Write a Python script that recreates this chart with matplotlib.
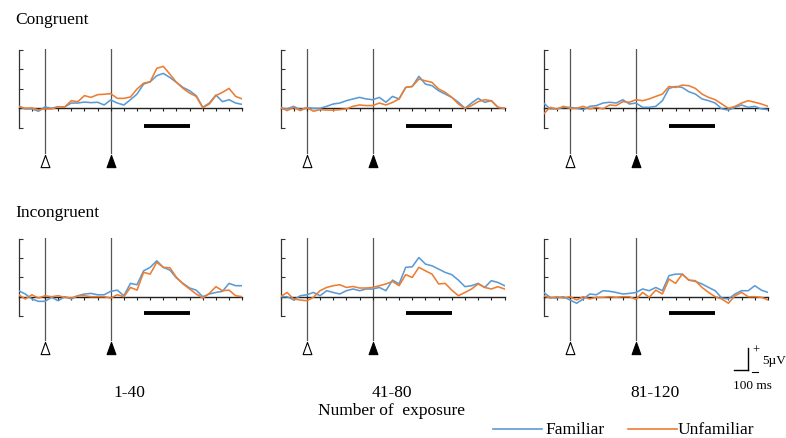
import matplotlib
matplotlib.use('Agg')
import matplotlib.pyplot as plt
from matplotlib.path import Path
from matplotlib.lines import Line2D

# ---------------- data ----------------
times = list(range(-200, 1501, 50))  # ms

cong_1_fam = [0.09, -0.03, -0.03, -0.15, 0.07, 0, 0.08, 0.07, 0.27, 0.27,
              0.32, 0.29, 0.31, 0.17, 0.43, 0.27, 0.17, 0.44, 0.73, 1.24,
              1.36, 1.67, 1.79, 1.58, 1.33, 1.07, 0.9, 0.65, 0.05, 0.27,
              0.68, 0.34, 0.44, 0.27, 0.2]
cong_1_unf = [0.1, 0, 0.02, -0.08, -0.03, -0.03, 0.08, 0.07, 0.39, 0.34,
              0.65, 0.56, 0.7, 0.72, 0.75, 0.51, 0.51, 0.58, 0.99, 1.29,
              1.36, 2.05, 2.15, 1.75, 1.33, 1.02, 0.78, 0.61, 0.03, 0.22,
              0.65, 0.82, 1.02, 0.61, 0.48]
cong_2_fam = [0, -0.03, 0.1, -0.07, 0.03, 0, 0, 0.1, 0.22, 0.27,
              0.39, 0.48, 0.56, 0.48, 0.44, 0.56, 0.31, 0.61, 0.48, 1.07,
              1.12, 1.64, 1.24, 1.16, 0.9, 0.73, 0.56, 0.31, 0, 0.27,
              0.51, 0.31, 0.39, 0.05, 0]
cong_2_unf = [0.05, -0.12, 0.05, -0.12, 0.03, -0.15, -0.07, -0.09, -0.1, -0.07,
              -0.03, 0.1, 0.17, 0.14, 0.14, 0.27, 0.17, 0.3, 0.48, 1.07,
              1.12, 1.5, 1.41, 1.33, 0.99, 0.82, 0.56, 0.22, 0, 0.14,
              0.34, 0.44, 0.39, 0.05, 0]
cong_3_fam = [0.27, -0.03, -0.03, 0.05, 0.05, 0, -0.07, 0.1, 0.14, 0.27,
              0.31, 0.27, 0.44, 0.22, 0.27, 0.05, 0.05, 0.1, 0.39, 1.02,
              1.12, 1.07, 0.85, 0.73, 0.48, 0.39, 0.27, -0.03, -0.09, 0.05,
              0.17, 0.05, 0.1, -0.03, -0.07]
cong_3_unf = [-0.29, 0.05, -0.05, 0.1, 0, 0, 0.1, -0.03, 0.05, -0.03,
              0.17, 0.14, 0.34, 0.31, 0.44, 0.39, 0.48, 0.61, 0.73, 1.12,
              1.07, 1.19, 1.16, 1.02, 0.73, 0.56, 0.44, 0.22, 0, 0.1,
              0.27, 0.39, 0.31, 0.22, 0.1]
incg_1_fam = [0.31, 0.14, -0.12, -0.24, -0.24, -0.03, -0.21, 0, -0.12, 0.05,
              0.14, 0.17, 0.1, 0.1, 0.28, 0.34, 0.05, 0.69, 0.62, 1.34,
              1.52, 1.86, 1.52, 1.38, 0.97, 0.69, 0.45, 0.34, 0, 0.14,
              0.22, 0.28, 0.69, 0.57, 0.57]
incg_1_unf = [0.1, -0.12, 0.1, -0.07, 0.05, 0, 0.05, -0.03, -0.07, 0.05,
              0.05, 0, 0, 0, -0.07, 0.1, 0, 0.48, 0.34, 1.26,
              1.17, 1.78, 1.52, 1.5, 1.0, 0.66, 0.4, 0.14, -0.07, 0.17,
              0.52, 0.31, 0.34, 0.05, 0]
incg_2_fam = [0, 0, -0.17, 0.05, 0.1, 0.22, 0.05, 0.31, 0.22, 0.14,
              0.31, 0.4, 0.31, 0.4, 0.4, 0.48, 0.31, 0.86, 0.66, 1.52,
              1.55, 2.03, 1.69, 1.6, 1.43, 1.26, 1.14, 0.86, 0.52, 0.57,
              0.69, 0.48, 0.83, 0.74, 0.57]
incg_2_unf = [0, 0.22, -0.12, -0.17, -0.21, -0.03, 0.31, 0.48, 0.57, 0.62,
              0.48, 0.53, 0.45, 0.45, 0.48, 0.57, 0.66, 0.79, 0.57, 1.14,
              1.0, 1.52, 1.34, 1.17, 0.66, 0.69, 0.34, 0.05, 0.22, 0.4,
              0.66, 0.48, 0.4, 0.52, 0.4]
incg_3_fam = [0.22, -0.03, -0.07, 0, -0.17, -0.34, -0.12, 0.14, 0.1, 0.31,
              0.28, 0.22, 0.14, 0.17, 0.22, 0.4, 0.31, 0.48, 0.31, 1.09,
              1.17, 1.17, 0.86, 0.79, 0.66, 0.48, 0.31, -0.07, -0.12, 0.14,
              0.31, 0.31, 0.57, 0.34, 0.22]
incg_3_unf = [0.05, -0.07, 0, -0.07, 0, -0.17, 0, -0.12, -0.03, -0.03,
              0, -0.03, 0, 0, -0.14, 0.22, -0.03, 0.34, 0.14, 0.91,
              0.69, 1.17, 0.86, 0.83, 0.48, 0.22, 0, -0.12, -0.34, 0.05,
              0.22, 0, 0, -0.03, -0.17]

onsets = [0, 500]            # prime (open) and target (filled) onsets, ms
window = [750, 1100]         # analysis window bar, ms
row_titles = ['Congruent', 'Incongruent']
col_labels = ['1-40', '41-80', '81-120']
series_names = ['Familiar', 'Unfamiliar']

# ---------------- style ----------------
W, H = 786, 439
BLUE = '#5B9BD5'
ORANGE = '#ED7D31'
plt.rcParams['font.family'] = ['Liberation Serif', 'DejaVu Serif']

fig = plt.figure(figsize=(W / 100, H / 100), dpi=100)
fig.patch.set_facecolor('white')


def fx(x):
    return x / W


def fy(y):
    return 1 - y / H


X0, X1 = -200, 1500
Y0, Y1 = -3.2, 3.05
col_left = [18.7, 280.5, 543.6]
col_width = [223.5, 224.0, 224.4]
row_zero = [109.3, 297.7]
row_ppu = [19.5, 19.3]
row_bar = [-0.92, -0.86]
row_tri = [-2.69, -2.66]
row_vbot = [-2.29, -2.25]

data = [[(cong_1_fam, cong_1_unf), (cong_2_fam, cong_2_unf), (cong_3_fam, cong_3_unf)],
        [(incg_1_fam, incg_1_unf), (incg_2_fam, incg_2_unf), (incg_3_fam, incg_3_unf)]]

tri = Path([(-0.36, -0.5), (0.36, -0.5), (0, 0.5), (-0.36, -0.5)],
           [Path.MOVETO, Path.LINETO, Path.LINETO, Path.CLOSEPOLY])

for r in range(2):
    top_px = row_zero[r] - Y1 * row_ppu[r]
    bot_px = row_zero[r] - Y0 * row_ppu[r]
    for c in range(3):
        ax = fig.add_axes([fx(col_left[c]), fy(bot_px), col_width[c] / W,
                           (bot_px - top_px) / H])
        ax.set_xlim(X0, X1)
        ax.set_ylim(Y0, Y1)
        ax.patch.set_alpha(0)
        for s in ['top', 'right']:
            ax.spines[s].set_visible(False)
        ax.spines['left'].set_bounds(-1, 3)
        ax.spines['left'].set_color('#333333')
        ax.spines['left'].set_linewidth(0.9)
        ax.spines['bottom'].set_position(('data', 0))
        ax.spines['bottom'].set_bounds(X0, X1)
        ax.spines['bottom'].set_color('#222222')
        ax.spines['bottom'].set_linewidth(1.0)
        ax.set_yticks([-1, 0, 1, 2, 3])
        ax.set_xticks(list(range(X0, X1 + 1, 100)))
        ax.tick_params(axis='y', direction='in', length=3, width=0.8,
                       colors='#333333', labelleft=False)
        ax.tick_params(axis='x', direction='out', length=2.5, width=0.8,
                       colors='#222222', labelbottom=False)
        for i, t in enumerate(onsets):
            ax.plot([t, t], [row_vbot[r], Y1], color='#555555', lw=0.9,
                    zorder=1)
            ax.plot([t], [row_tri[r]], marker=tri, markersize=8.8,
                    markerfacecolor='white' if i == 0 else 'black',
                    markeredgecolor='black', markeredgewidth=0.8,
                    linestyle='none', clip_on=False)
        fam, unf = data[r][c]
        ax.plot(times, fam, color=BLUE, lw=1.15, zorder=3)
        ax.plot(times, unf, color=ORANGE, lw=1.15, zorder=4)
        ax.plot(window, [row_bar[r]] * 2, color='black', lw=2.8,
                solid_capstyle='butt', zorder=5)

# row titles
fig.text(fx(15), fy(20), row_titles[0], fontsize=12.5, ha='left', va='center')
fig.text(fx(15), fy(213), row_titles[1], fontsize=12.5, ha='left', va='center')

# column labels
for c, lab in enumerate(col_labels):
    fig.text(fx(col_left[c] + col_width[c] / 2 - 1), fy(393), lab,
             fontsize=12.5, ha='center', va='center')
fig.text(fx(392), fy(411), 'Number of  exposure', fontsize=12.5,
         ha='center', va='center')

# scale bar
fig.add_artist(Line2D([fx(748), fx(748)], [fy(349), fy(371)], color='black',
                      lw=1.0))
fig.add_artist(Line2D([fx(734), fx(748)], [fy(371), fy(371)], color='black',
                      lw=1.0))
fig.add_artist(Line2D([fx(752), fx(758)], [fy(373), fy(373)], color='black',
                      lw=0.8))
fig.text(fx(755.5), fy(351), '+', fontsize=9, ha='center', va='center')
fig.text(fx(762), fy(361), '5µV', fontsize=9.5, ha='left', va='center')
fig.text(fx(752), fy(386), '100 ms', fontsize=9.5, ha='center', va='center')

# legend
fig.add_artist(Line2D([fx(493), fx(542)], [fy(430), fy(430)], color=BLUE,
                      lw=1.2))
fig.text(fx(545), fy(430), series_names[0], fontsize=12.5, ha='left',
         va='center')
fig.add_artist(Line2D([fx(628), fx(677)], [fy(430), fy(430)], color=ORANGE,
                      lw=1.2))
fig.text(fx(678), fy(430), series_names[1], fontsize=12.5, ha='left',
         va='center')

fig.savefig('out.png', dpi=100, facecolor='white')
